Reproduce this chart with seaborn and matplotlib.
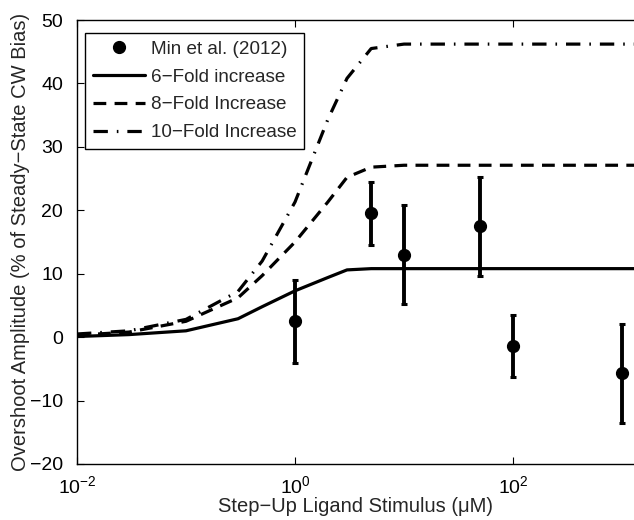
import numpy as np
import pandas as pd
import matplotlib
matplotlib.use("Agg")
import matplotlib.pyplot as plt
from matplotlib.lines import Line2D
from matplotlib.ticker import FixedLocator, NullLocator, LogFormatterSciNotation
import seaborn as sns

# Measured overshoot amplitudes (Min et al. 2012)
stim_uM = [1, 5, 10, 50, 100, 1000]
overshoot = [2.5, 19.5, 13.0, 17.5, -1.4, -5.7]
overshoot_err = [6.5, 5.0, 7.8, 7.8, 4.9, 7.8]

# Model predictions for increased CheZ / receptor activity ratios
model_stim = [0.01, 0.03, 0.1, 0.3, 0.5, 1, 2, 3, 5, 10, 100, 1000, 10000]
fold6 = [0.1, 0.4, 1.0, 2.9, 4.8, 7.3, 9.4, 10.6, 10.8, 10.8, 10.8, 10.8, 10.8]
fold8 = [0.3, 0.8, 2.5, 6.2, 9.7, 15.0, 21.3, 25.2, 26.8, 27.1, 27.1, 27.1, 27.1]
fold10 = [0.5, 1.0, 2.8, 7.2, 12.0, 21.3, 34.3, 40.8, 45.5, 46.2, 46.2, 46.2, 46.2]

series_labels = ["6\u2212Fold increase", "8\u2212Fold Increase", "10\u2212Fold Increase"]
data_label = "Min et al. (2012)"

sns.set_style("ticks")
plt.rcParams["font.family"] = ["Liberation Sans", "DejaVu Sans"]
plt.rcParams["mathtext.fontset"] = "custom"
plt.rcParams["mathtext.rm"] = "Liberation Sans"
plt.rcParams["mathtext.it"] = "Liberation Sans:italic"

FS = 14

models = pd.DataFrame({
    "stim": model_stim * 3,
    "amp": fold6 + fold8 + fold10,
    "model": [series_labels[0]] * len(model_stim)
             + [series_labels[1]] * len(model_stim)
             + [series_labels[2]] * len(model_stim),
})

fig = plt.figure(figsize=(6.34, 5.2), dpi=100)
ax = fig.add_axes([77 / 634, 56 / 520, 557 / 634, 444 / 520])

LW = 2.3
dash_styles = {
    series_labels[0]: "",
    series_labels[1]: (4, 2.6),
    series_labels[2]: (4.5, 2.8, 0.5, 2.8),
}
sns.lineplot(data=models, x="stim", y="amp", style="model", dashes=dash_styles,
             color="black", linewidth=LW, ax=ax, legend=False, sort=False)

ax.errorbar(stim_uM, overshoot, yerr=overshoot_err, fmt="o", color="black",
            markersize=8.5, elinewidth=2.8, capsize=2.3, capthick=2.2)

ax.set_xscale("log")
ax.set_xlim(1e-2, 10 ** (3 + 12 / 109))
ax.set_ylim(-20, 50)
ax.xaxis.set_major_locator(FixedLocator([1e-2, 1e0, 1e2]))
ax.xaxis.set_minor_locator(NullLocator())
ax.xaxis.set_major_formatter(LogFormatterSciNotation())
ax.set_yticks(range(-20, 51, 10))

ax.tick_params(direction="in", length=5, width=0.8, top=True, right=False,
               labelsize=FS, colors="black")
ax.tick_params(axis="y", pad=10)
ax.tick_params(axis="x", pad=8)
for side in ["left", "bottom", "top"]:
    ax.spines[side].set_visible(True)
    ax.spines[side].set_linewidth(1.0)
    ax.spines[side].set_color("black")
ax.spines["right"].set_visible(False)

ax.set_xlabel("Step\u2212Up Ligand Stimulus (\u03bcM)", fontsize=14.5, labelpad=0)
ax.set_ylabel("Overshoot Amplitude (% of Steady\u2212State CW Bias)", fontsize=14.5, labelpad=0)

handles = [
    Line2D([], [], color="black", marker="o", linestyle="none", markersize=8.5),
    Line2D([], [], color="black", linewidth=LW, linestyle="-"),
    Line2D([], [], color="black", linewidth=LW, linestyle=(0, dash_styles[series_labels[1]])),
    Line2D([], [], color="black", linewidth=LW, linestyle=(0, dash_styles[series_labels[2]])),
]
leg = ax.legend(handles, [data_label] + series_labels, loc="upper left",
                bbox_to_anchor=(8 / 557, 1 - 13 / 444), fontsize=13.6,
                frameon=True, fancybox=False, framealpha=1, edgecolor="black",
                handlelength=2.8, handletextpad=0.3, borderpad=0.4,
                labelspacing=0.56, borderaxespad=0)
leg.get_frame().set_linewidth(1.0)

fig.savefig("out.png", dpi=100)
